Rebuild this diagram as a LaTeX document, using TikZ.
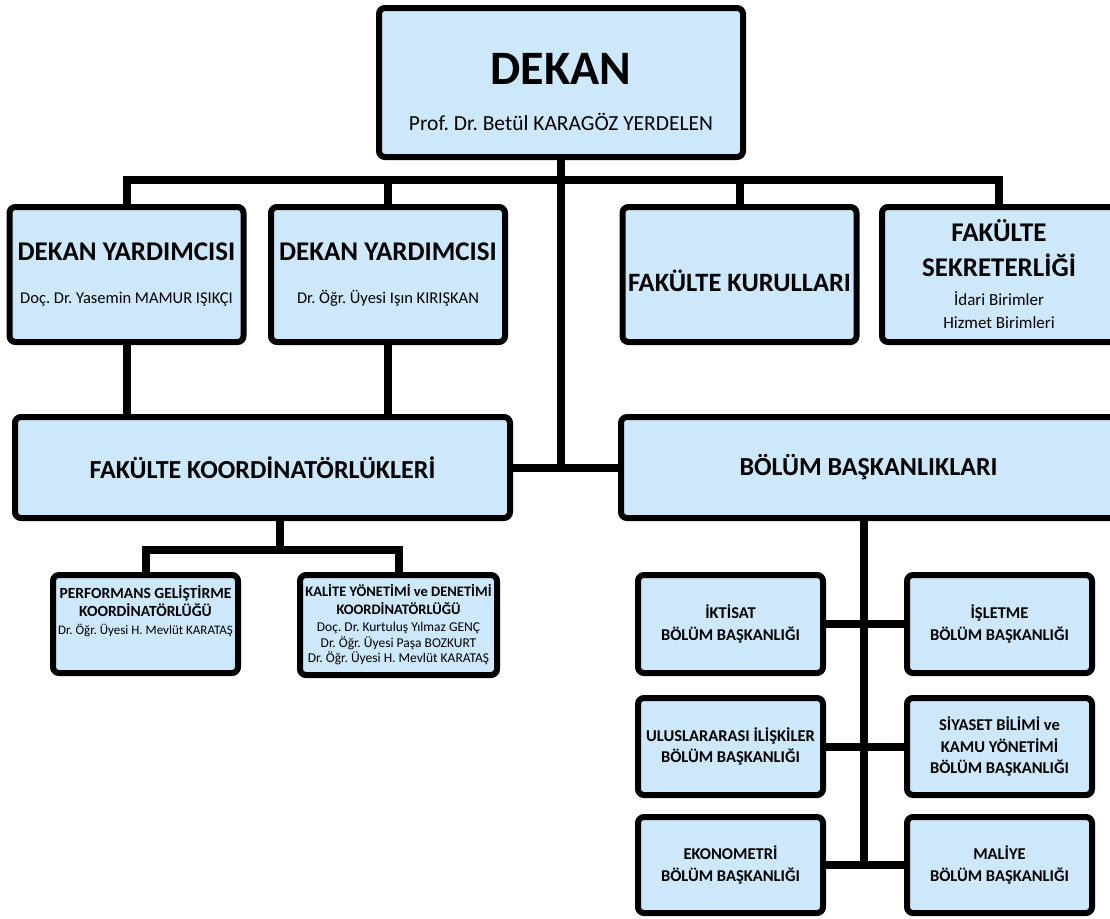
\documentclass[tikz,border=0pt]{standalone}
\usepackage{fontspec}
\setmainfont{Carlito}
\usepackage{tikz}
\definecolor{boxblue}{RGB}{205,232,250}
\tikzset{
  unit/.style={draw,line width=6pt,fill=boxblue,rounded corners=6pt,align=center,inner sep=2pt},
  bigunit/.style={unit,minimum width=234pt,minimum height=135pt},
  wideunit/.style={unit,minimum width=495pt,minimum height=101pt,font=\fontsize{26}{30}\selectfont\bfseries},
  smallunit/.style={unit,minimum width=185pt,minimum height=98pt,font=\fontsize{16.5}{21.5}\selectfont\bfseries},
  link/.style={line width=8pt},
}
\newcommand{\headtxt}{\fontsize{27}{32}\selectfont\bfseries}
\newcommand{\coordtxt}{\fontsize{15.5}{18}\selectfont\bfseries}
\frenchspacing

\begin{document}
\begin{tikzpicture}[x=1pt,y=-1pt]
\useasboundingbox (0,0) rectangle (1110,918);
\clip (0,0) rectangle (1110,918);

\node[unit,minimum width=364pt,minimum height=149pt,text height=97pt,font=\fontsize{21.5}{46}\selectfont] (dekan) at (561,82.5)
  {{\fontsize{48}{52}\selectfont\bfseries DEKAN}\\Prof. Dr. Betül KARAGÖZ YERDELEN};

\node[bigunit,font=\fontsize{16.5}{43}\selectfont] (dy1) at (126.5,274.5)
  {{\headtxt DEKAN YARDIMCISI}\\Doç. Dr. Yasemin MAMUR IŞIKÇI};
\node[bigunit,font=\fontsize{16.5}{43}\selectfont] (dy2) at (388,274.5)
  {{\headtxt DEKAN YARDIMCISI}\\Dr. Öğr. Üyesi Işın KIRIŞKAN};
\node[bigunit,font=\fontsize{26.5}{30}\selectfont\bfseries,text height=34pt,text depth=0pt] (kurul) at (739.5,274.5)
  {FAKÜLTE KURULLARI};
\node[bigunit,font=\fontsize{17}{23}\selectfont] (sekr) at (999,274.5)
  {{\headtxt FAKÜLTE}\\[12pt]{\headtxt SEKRETERLİĞİ}\\[6pt]İdari Birimler\\Hizmet Birimleri};

\node[wideunit] (fk) at (262.5,467.5) {FAKÜLTE KOORDİNATÖRLÜKLERİ};
\node[wideunit] (bb) at (868.5,467.5) {BÖLÜM BAŞKANLIKLARI};

\node[unit,minimum width=185pt,minimum height=98pt,text depth=28pt,font=\fontsize{13}{18}\selectfont] (pg) at (145.5,624)
  {{\coordtxt PERFORMANS GELİŞTİRME}\\{\coordtxt KOORDİNATÖRLÜĞÜ}\\Dr. Öğr. Üyesi H. Mevlüt KARATAŞ};
\node[unit,minimum width=197pt,minimum height=100pt,font=\fontsize{13.5}{15.5}\selectfont] (ky) at (398.5,625)
  {{\fontsize{14.5}{17}\selectfont\bfseries KALİTE YÖNETİMİ ve DENETİMİ}\\[2.5pt]{\fontsize{14.5}{17}\selectfont\bfseries KOORDİNATÖRLÜĞÜ}\\[1.5pt]Doç. Dr. Kurtuluş Yılmaz GENÇ\\Dr. Öğr. Üyesi Paşa BOZKURT\\Dr. Öğr. Üyesi H. Mevlüt KARATAŞ};

\node[smallunit] (ikt) at (730.5,624) {İKTİSAT\\BÖLÜM BAŞKANLIĞI};
\node[smallunit] (isl) at (999.5,624) {İŞLETME\\BÖLÜM BAŞKANLIĞI};
\node[smallunit,minimum height=97pt] (uls) at (730.5,746.5) {ULUSLARARASI İLİŞKİLER\\BÖLÜM BAŞKANLIĞI};
\node[smallunit,minimum height=97pt] (siy) at (999.5,746.5) {SİYASET BİLİMİ ve\\KAMU YÖNETİMİ\\BÖLÜM BAŞKANLIĞI};
\node[smallunit,minimum height=96pt] (eko) at (730.5,865) {EKONOMETRİ\\BÖLÜM BAŞKANLIĞI};
\node[smallunit,minimum height=96pt] (mal) at (999.5,865) {MALİYE\\BÖLÜM BAŞKANLIĞI};

\coordinate (bar) at (0,180);
\draw[link] (dy1.north) -- (dy1.north |- bar) -- (sekr.north |- bar) -- (sekr.north);
\draw[link] (dy2.north) -- (dy2.north |- bar);
\draw[link] (kurul.north) -- (kurul.north |- bar);
\draw[link] (dekan.south) -- (dekan.south |- fk.east);
\draw[link] (fk.east) -- (bb.west);
\draw[link] (dy1.south) -- (dy1.south |- fk.north);
\draw[link] (dy2.south) -- (dy2.south |- fk.north);

\coordinate (fkjoin) at (280,550);
\draw[link] (fkjoin |- fk.south) -- (fkjoin);
\draw[link] (pg.north) -- (pg.north |- fkjoin) -- (ky.north |- fkjoin) -- (ky.north);

\coordinate (spine) at (864,0);
\draw[link] (spine |- bb.south) -- (spine |- eko.east);
\draw[link] (ikt.east) -- (isl.west);
\draw[link] (uls.east) -- (siy.west);
\draw[link] (eko.east) -- (mal.west);
\end{tikzpicture}
\end{document}
